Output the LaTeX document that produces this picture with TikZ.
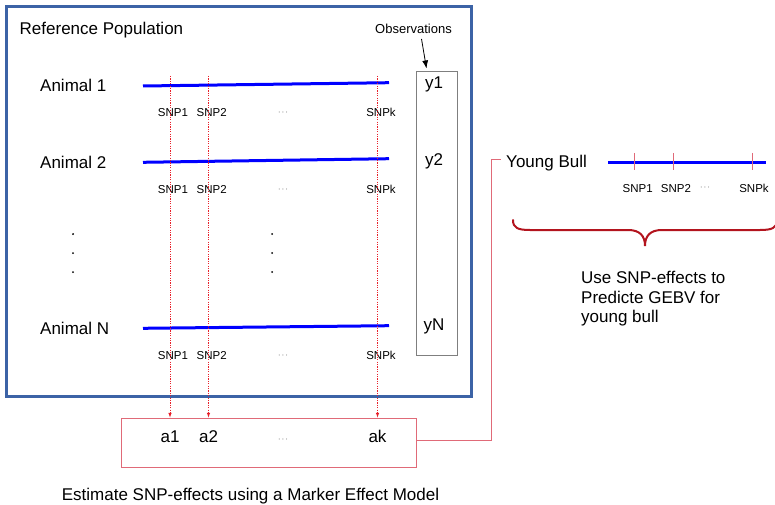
\documentclass[tikz,border=0pt]{standalone}
\usepackage{fontspec}
\setmainfont{Liberation Sans}
\usetikzlibrary{arrows.meta}

\definecolor{popblue}{HTML}{3C63A6}
\definecolor{chromblue}{HTML}{0000FF}
\definecolor{snpred}{HTML}{E8202A}
\definecolor{effred}{HTML}{E06A78}
\definecolor{bracered}{HTML}{B3141E}
\definecolor{obsgray}{HTML}{7F7F7F}

\begin{document}
\begin{tikzpicture}[x=1pt, y=-1pt, >=latex,
    every node/.style={font=\fontsize{17}{20}\selectfont},
    chrom/.style={draw=chromblue, line width=3pt},
    snpline/.style={draw=snpred, line width=0.6pt, dash pattern=on 1.2pt off 1.2pt},
    snptick/.style={draw=effred, line width=0.7pt},
    snplabel/.style={font=\fontsize{11.5}{13}\selectfont, anchor=base, inner sep=0pt},
    gapdots/.style={font=\fontsize{8}{9}\selectfont, anchor=base, inner sep=0pt},
    link/.style={draw=effred, line width=1pt}]
    \useasboundingbox (0,0) rectangle (775,505);

    % reference population frame and its title
    \node[draw=popblue, line width=3pt, minimum width=464.5pt, minimum height=389.5pt,
          inner sep=0pt] (refpop) at (238.75,201.25) {};
    \node[anchor=base west, inner sep=0pt] (reftitle) at (19.5,34.3) {Reference Population};

    % observation column
    \node[draw=obsgray, line width=1pt, minimum width=41pt, minimum height=283pt,
          inner sep=0pt] (obs) at (436.5,213.5) {};
    \node[font=\fontsize{13}{15}\selectfont, anchor=base] (obslabel) at (413.5,33.3) {Observations};
    \draw[-{Latex[length=8pt,width=6pt]}, line width=0.8pt]
        ([xshift=8pt,yshift=-2pt]obslabel.south) -- ([xshift=-10pt,yshift=3pt]obs.north);
    \node[anchor=base] (y1) at (434,88.7) {y1};
    \node[anchor=base] (y2) at (434,165.7) {y2};
    \node[anchor=base] (yN) at (434,330) {yN};

    % one genotyped animal per row
    \foreach \row/\yl/\yr/\lbl in {1/86/82.7/Animal 1, 2/162.3/158.7/Animal 2, N/328.3/325.7/Animal N} {
        \node[anchor=base west, inner sep=0pt] (animal\row) at (40,{\yl+5.8}) {\lbl};
        \draw[chrom] (143,\yl) -- (389,\yr);
        \node[snplabel] (snp1\row) at (173,{\yl+30.7}) {SNP1};
        \node[snplabel] (snp2\row) at (211.7,{\yl+30.7}) {SNP2};
        \node[gapdots] (gap\row) at (283,{\yl+29}) {$\cdots$};
        \node[snplabel] (snpk\row) at (381,{\yl+30.7}) {SNPk};
    }
    \foreach \y in {234,253,272} {
        \fill (73,\y) circle (1pt);
        \fill (272,\y) circle (1pt);
    }

    % estimated marker effects
    \node[draw=effred, line width=1pt, minimum width=295pt, minimum height=49pt,
          inner sep=0pt] (effects) at (268.5,442.5) {};
    \node[anchor=base] (a1) at (170,442.7) {a1};
    \node[anchor=base] (a2) at (208.5,442.7) {a2};
    \node[gapdots] (agap) at (283,441) {$\cdots$};
    \node[anchor=base] (ak) at (377.5,442.7) {ak};
    \node[anchor=base, inner sep=0pt] (estimate) at (250.5,500.5) {Estimate SNP-effects using a Marker Effect Model};

    \coordinate (snptop) at (0,76);
    \foreach \a in {a1,a2,ak}
        \draw[snpline, ->] (\a |- snptop) -- (\a |- effects.north);

    % young bull to be predicted
    \node[anchor=base west, inner sep=0pt, inner xsep=5pt] (bull) at (501,167.7) {Young Bull};
    \draw[link] ([yshift=2.5pt]effects.east) -| ([xshift=-10pt,yshift=4pt]bull.west) -- ([yshift=4pt]bull.west);
    \draw[chrom] (608,162.3) -- (766,162.3);
    \foreach \x in {634,673,752}
        \draw[snptick] (\x,153) -- (\x,170);
    \node[snplabel] (ybsnp1) at (637.7,192.7) {SNP1};
    \node[snplabel] (ybsnp2) at (676,192.7) {SNP2};
    \node[gapdots] (ybgap) at (705,189) {$\cdots$};
    \node[snplabel] (ybsnpk) at (754,192.7) {SNPk};

    % brace over the young bull's markers
    \draw[draw=bracered, line width=2pt, line cap=round]
        (513,220) .. controls (513,228) and (518,230) .. (530,230) -- (628,230)
        .. controls (640,230) and (645,236) .. (645,246)
        .. controls (645,236) and (650,230) .. (662,230) -- (760,230)
        .. controls (772,230) and (777,228) .. (777,220);
    \node[anchor=north west, align=left, inner sep=0pt, font=\fontsize{17}{19.5}\selectfont]
        (usetext) at (581,271) {Use SNP-effects to\\Predicte GEBV for\\young bull};
\end{tikzpicture}
\end{document}
